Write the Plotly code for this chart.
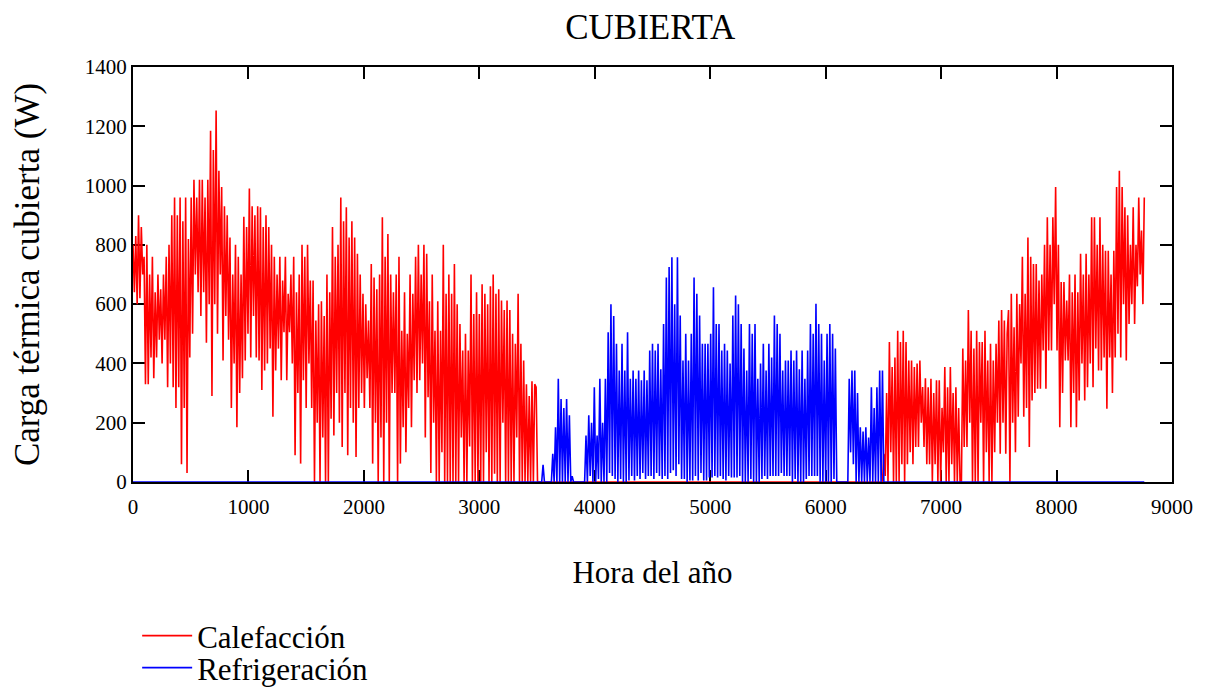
import plotly.graph_objects as go

# Readings taken from the chart every 12 hours of the year
STEP_H = 12

# Heating load (W), hours 0 .. 3504
calefaccion_invierno1 = [
    800, 640, 830, 600, 900, 620, 860, 700, 760, 330,
    800, 330, 700, 420, 760, 350, 640, 420, 700, 480,
    650, 400, 700, 480, 760, 320, 800, 400, 900, 320,
    960, 250, 900, 320, 960, 60, 880, 250, 960, 30,
    820, 420, 960, 500, 1020, 700, 960, 640, 1020, 560,
    1020, 640, 960, 470, 1020, 600, 1185, 290, 1120, 600,
    1253, 500, 1050, 700, 995, 410, 930, 560, 900, 480,
    825, 250, 700, 400, 800, 185, 760, 300, 700, 350,
    895, 410, 860, 500, 990, 420, 930, 560, 900, 420,
    930, 410, 927, 310, 860, 376, 900, 400, 860, 450,
    800, 220, 760, 376, 700, 450, 760, 343, 680, 505,
    760, 343, 635, 505, 700, 400, 760, 90, 640, 300,
    700, 62, 800, 343, 760, 250, 800, 400, 680, 250,
    680, 0, 545, 200, 600, 0, 610, 150, 560, 0,
    700, 0, 640, 213, 860, 157, 760, 300, 800, 200,
    960, 118, 880, 300, 927, 90, 825, 250, 880, 200,
    825, 84, 770, 250, 700, 300, 635, 250, 600, 350,
    545, 250, 735, 62, 690, 200, 650, 0, 700, 150,
    893, 0, 760, 200, 837, 0, 700, 300, 640, 300,
    700, 0, 760, 62, 510, 185, 640, 100, 500, 250,
    700, 185, 635, 343, 760, 300, 800, 343, 700, 400,
    800, 150, 770, 286, 610, 30, 700, 200, 510, 0,
    610, 0, 510, 100, 800, 0, 635, 0, 700, 0,
    635, 0, 735, 0, 600, 0, 533, 150, 444, 0,
    500, 0, 444, 120, 700, 0, 567, 0, 640, 0,
    567, 0, 667, 0, 635, 100, 600, 0, 660, 0,
    700, 28, 635, 0, 650, 0, 612, 200, 580, 0,
    612, 0, 580, 0, 500, 0, 466, 150, 635, 0,
    466, 0, 410, 0, 330, 0, 290, 0, 340, 0,
    330, 320, 0,
]

# Cooling load (W), hours 3516 .. 6492
refrigeracion_verano = [
    0, 0, 0, 58, 0, 0, 0, 0, 0, 0,
    95, 0, 185, 0, 348, 0, 280, 0, 250, 0,
    280, 0, 225, 0, 20, 0, 0, 0, 0, 0,
    0, 0, 0, 0, 157, 0, 225, 20, 200, 0,
    320, 0, 157, 10, 348, 0, 200, 0, 348, 0,
    505, 30, 600, 20, 560, 10, 466, 0, 376, 10,
    466, 0, 376, 0, 505, 5, 348, 20, 376, 5,
    348, 20, 376, 10, 343, 30, 376, 10, 343, 20,
    444, 20, 466, 10, 444, 30, 466, 20, 380, 10,
    533, 20, 690, 10, 725, 30, 758, 40, 600, 20,
    758, 60, 562, 10, 410, 10, 500, 0, 410, 5,
    500, 5, 690, 20, 635, 5, 562, 30, 466, 5,
    466, 5, 466, 15, 500, 15, 657, 20, 533, 15,
    533, 20, 444, 10, 466, 5, 444, 20, 400, 15,
    562, 15, 629, 15, 600, 20, 533, 0, 450, 0,
    376, 0, 533, 10, 500, 0, 533, 0, 348, 0,
    400, 10, 466, 20, 376, 10, 466, 20, 420, 20,
    562, 20, 533, 20, 500, 30, 376, 20, 410, 20,
    410, 20, 444, 0, 410, 10, 444, 0, 380, 0,
    444, 0, 348, 10, 444, 20, 533, 20, 500, 20,
    601, 20, 533, 0, 500, 0, 410, 0, 500, 0,
    533, 0, 500, 10, 450, 0, 0, 0, 0, 0,
    0, 0, 0, 0, 348, 100, 376, 60, 376, 0,
    300, 0, 185, 0, 170, 0, 185, 0, 150, 0,
    320, 0, 250, 0, 320, 0, 376, 0, 376,
]

# Heating load (W), hours 6504 .. 8760
calefaccion_invierno2 = [
    95, 20, 300, 0, 472, 100, 388, 0, 420, 0,
    510, 0, 472, 60, 510, 0, 472, 60, 410, 100,
    410, 60, 388, 118, 400, 118, 410, 200, 320, 118,
    350, 60, 320, 60, 348, 0, 300, 60, 343, 0,
    343, 0, 250, 100, 388, 0, 320, 0, 388, 60,
    300, 0, 320, 0, 250, 0, 0, 450, 118, 410,
    118, 580, 200, 510, 0, 450, 0, 510, 0, 472,
    200, 472, 0, 510, 100, 410, 0, 466, 0, 410,
    100, 466, 200, 545, 95, 580, 200, 545, 95, 500,
    580, 0, 635, 200, 522, 100, 635, 220, 600, 400,
    760, 220, 635, 250, 825, 118, 760, 275, 735, 300,
    735, 315, 680, 315, 700, 444, 800, 315, 893, 444,
    800, 444, 893, 600, 995, 444, 800, 185, 675, 300,
    675, 410, 612, 410, 700, 185, 640, 300, 700, 185,
    640, 275, 770, 400, 700, 275, 770, 320, 700, 400,
    893, 320, 893, 450, 800, 376, 893, 376, 800, 420,
    780, 247, 780, 420, 700, 300, 780, 420, 995, 500,
    1050, 420, 995, 600, 927, 410, 900, 533, 800, 600,
    927, 533, 800, 660, 960, 700, 848, 600, 960,
]

n1 = len(calefaccion_invierno1)
n2 = len(refrigeracion_verano)
n3 = len(calefaccion_invierno2)
horas = [i * STEP_H for i in range(n1 + n2 + n3)]

calefaccion = calefaccion_invierno1 + [0] * n2 + calefaccion_invierno2
refrigeracion = [0] * n1 + refrigeracion_verano + [0] * n3

FONT = "Liberation Serif"

fig = go.Figure()
fig.add_trace(go.Scatter(x=horas, y=calefaccion, mode="lines", name="Calefacción",
                         line=dict(color="#ff0000", width=1.6), legend="legend",
                         cliponaxis=False))
fig.add_trace(go.Scatter(x=horas, y=refrigeracion, mode="lines", name="Refrigeración",
                         line=dict(color="#0000ff", width=1.6), legend="legend2",
                         cliponaxis=False))

axis_common = dict(showline=True, linecolor="black", linewidth=2, mirror="ticks",
                   ticks="inside", ticklen=12, tickwidth=2, tickcolor="black",
                   showgrid=False, zeroline=False, layer="below traces",
                   tickfont=dict(family=FONT, size=21, color="black"))

legend_common = dict(x=0.004, xanchor="left", yanchor="middle", orientation="v",
                     font=dict(family=FONT, size=31, color="black"),
                     bgcolor="rgba(0,0,0,0)", itemwidth=50, borderwidth=0)

fig.update_layout(
    width=1211, height=697,
    font=dict(family=FONT, color="black"),
    paper_bgcolor="white", plot_bgcolor="white",
    margin=dict(l=133, r=39, t=67, b=215, autoexpand=False),
    title=dict(text="CUBIERTA", x=0.537, xanchor="center", y=1 - 27 / 697, yanchor="middle",
               yref="container", font=dict(family=FONT, size=35, color="black")),
    xaxis=dict(range=[0, 9000], tickvals=[0, 1000, 2000, 3000, 4000, 5000, 6000, 7000, 8000, 9000],
               ticklabelstandoff=5,
               title=dict(text="Hora del año", font=dict(family=FONT, size=31, color="black"), standoff=43),
               **axis_common),
    yaxis=dict(range=[0, 1400], tickvals=[0, 200, 400, 600, 800, 1000, 1200, 1400],
               title=dict(text="Carga térmica cubierta (W)", font=dict(family=FONT, size=35, color="black"), standoff=35),
               **axis_common),
    showlegend=True,
    legend=dict(y=-(636 - 482) / 415, **legend_common),
    legend2=dict(y=-(668 - 482) / 415, **legend_common),
)

fig.write_html("out.html")
